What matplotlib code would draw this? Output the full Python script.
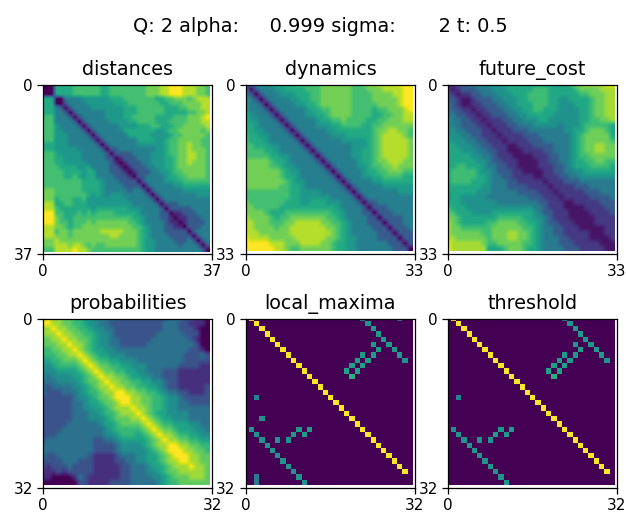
import numpy as np
import matplotlib
matplotlib.use("Agg")
import matplotlib.pyplot as plt

W, H = 626, 512
TITLE = "Q: 2 alpha:     0.999 sigma:       2 t: 0.5"

# Upper triangles, one string per row starting at the diagonal; levels 0-9
level_values = [0, 1.2, 2.3, 3.4, 4.4, 5.2, 6.0, 6.8, 7.7, 9.0]
distance_levels = [0, 1.2, 2.6, 3.9, 4.8, 5.5, 6.3, 7.1, 8.0, 9.0]
future_cost_levels = [0.5, 1.5, 2.6, 3.7, 4.6, 5.4, 6.2, 7.0, 7.8, 9.0]
distances_rows = [
"0005555666666556666666677788999888776",
"005555666666556666666677788999888776",
"05555666666556666666677788999888776",
"0033334444445556666666556677767888",
"0233334444445556666666556667777888",
"02333344444445556666665556677788",
"02333333444455566666655555667788",
"023333344445566666555566677789",
"02333334444556666555666677788",
"0233333344445556655566777778",
"023333335555555445667777767",
"02333333555554444566777776",
"0233333335555445667777766",
"023333334444445667787766",
"02233333333445667787776",
"0222233334445667788776",
"012223334445567788776",
"01222334445567787776",
"0122233445567777776",
"012223344566777776",
"02233334556677776",
"0233334455666666",
"023333344555555",
"02333333444444",
"0233333333444",
"023333333333",
"02223333333",
"0222223333",
"011222333",
"01122233",
"0122223",
"022233",
"02333",
"0233",
"023",
"02",
"0",
]
dynamics_rows = [
"033444555566666777777667778888999",
"02333445555666777777666777888899",
"0233344455566777777666677778899",
"023333445566777777666677777899",
"02333344556777777666667777899",
"0233333455667777666656677789",
"023333445567777666655667788",
"02333334556676666556677788",
"0233334445566665566777777",
"023333344555555567788776",
"02333334445555567888876",
"0233333344444567888887",
"023333333444567888887",
"02333333445567888887",
"0233333445567888887",
"023333345567788877",
"02333344566778777",
"0233334556677766",
"023334455666655",
"02333344555555",
"0233333444444",
"023333333444",
"02333333333",
"0223333333",
"022233333",
"02223333",
"0222233",
"022233",
"02223",
"0222",
"022",
"02",
"0",
]
future_cost_rows = [
"112233344445555555555545677888899",
"01222333444555556665555567777888",
"0112233344455566665555556677788",
"001222334445566665544555567788",
"01122233445556665544455567788",
"0112223344556655544445567788",
"011222334455555444445567788",
"01112233444554444445566778",
"0111223334444434445666665",
"011122233333334455677765",
"01111222333333456777775",
"0111122233333456777776",
"001112222333456778877",
"00111122333456778877",
"0001112233456677777",
"000112233455667766",
"00111223455566665",
"0011223344555555",
"011122334444444",
"01112223333333",
"0111122233333",
"011111222333",
"01111122223",
"0011111222",
"000111122",
"00011112",
"0001111",
"001111",
"00011",
"0011",
"001",
"00",
"0",
]
probabilities_rows = [
"89887766554433322222222233322110",
"9887766544332222222222333221110",
"988776654433222222222333222100",
"98877665443222222223333322200",
"9887765443322222233333332100",
"988765443322222333333333200",
"98765544333333333333332210",
"9876554443333333333322232",
"987665544433333333322222",
"98776655444333333222211",
"9877665544333222111111",
"988776554433222111111",
"98877665544322111111",
"9887766554322111112",
"998877665433221112",
"99887766544322222",
"9887766544332222",
"988766544333333",
"98765544443333",
"9876554443333",
"987665554433",
"98776555443",
"9887665544",
"988776655",
"99887766",
"9988776",
"998877",
"98877",
"9887",
"887",
"87",
"7",
]

# Sparse matrices: (row, col, value)
diag_rows = list(range(0, 30))
diag_cols = list(range(1, 31))
maxima_rows = [0,1,2,3,4,5,6,7,8, 5,6,7,7,8,8,9,9,10,10,11,
               21,22,23,24,25,26,27,28,29,30,31, 15,23,23,22,21,22,21]
maxima_cols = [22,23,24,25,26,27,28,29,30, 24,25,24,22,23,21,22,20,21,19,20,
               1,2,3,4,5,6,7,8,9,10,11, 2,6,8,9,10,11,12]
maxima_vals = [0.48,0.52,0.55,0.55,0.55,0.55,0.55,0.55,0.52, 0.55,0.55,0.55,0.55,0.55,0.57,0.57,0.58,0.58,0.58,0.64,
               0.52,0.52,0.52,0.52,0.52,0.52,0.52,0.52,0.52,0.52,0.52, 0.45,0.52,0.52,0.55,0.55,0.55,0.55]
extra_rows = [0, 19, 30, 31]
extra_cols = [29, 3, 2, 2]
extra_vals = [0.42, 0.5, 0.42, 0.42]

tick_ends = [37, 33, 33, 32, 32, 32]
titles = ["distances", "dynamics", "future_cost", "probabilities", "local_maxima", "threshold"]


def sym(rows, levels):
    n = len(rows)
    m = np.zeros((n, n))
    for i, s in enumerate(rows):
        s = (s + s[-1] * n)[:n - i]
        for k, ch in enumerate(s):
            m[i, i + k] = m[i + k, i] = levels[int(ch)] / 9
    return m


def sparse(n, extra):
    m = np.zeros((n, n))
    m[diag_rows, diag_cols] = 1.0
    m[maxima_rows, maxima_cols] = maxima_vals
    if extra:
        m[extra_rows, extra_cols] = extra_vals
    return m


mats = [sym(distances_rows, distance_levels), sym(dynamics_rows, distance_levels),
        sym(future_cost_rows, future_cost_levels), sym(probabilities_rows, level_values),
        sparse(32, True), sparse(32, False)]
interps = ["bilinear"] * 4 + ["nearest"] * 2

boxes = [(43.3, 212, 85, 254), (246, 415, 85, 254), (448.3, 617, 85, 254),
         (43.3, 212, 319, 487.7), (246, 415, 319, 487.7), (448.3, 617, 319, 487.7)]

fig = plt.figure(figsize=(W / 100, H / 100), dpi=100)
for m, end, title, interp, (x0, x1, y0, y1) in zip(mats, tick_ends, titles, interps, boxes):
    ax = fig.add_axes([x0 / W, 1 - y1 / H, (x1 - x0) / W, (y1 - y0) / H])
    ax.imshow(m, cmap="viridis", aspect="auto", vmin=0, vmax=1, interpolation=interp)
    ax.set_xticks([0, end])
    ax.set_yticks([0, end])
    ax.set_xlim(0, end)
    ax.set_ylim(end, 0)
    ax.tick_params(length=4, width=0.9, labelsize=11)
    for s in ax.spines.values():
        s.set_linewidth(0.9)
    ax.set_title(title, fontsize=13.8, pad=7)
fig.suptitle(TITLE, x=320.5 / W, y=1 - 26 / H, va="center", fontsize=13.9)
fig.savefig("out.png", dpi=100)
